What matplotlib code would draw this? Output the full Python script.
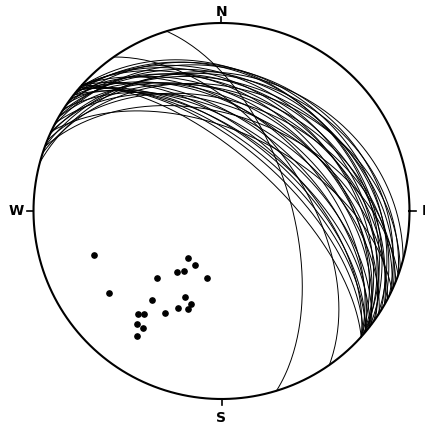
import numpy as np
import matplotlib
matplotlib.use("Agg")
import matplotlib.pyplot as plt

# planes: dip direction / dip (degrees)
dip_dirs = [15, 18, 20, 22, 24, 25, 27, 28, 30, 30,
            32, 33, 34, 35, 36, 37, 38, 38, 40, 40,
            42, 42, 41, 42, 41, 20, 25, 39,
            42, 41, 40, 38, 40,
            73, 55]
dips = [28, 35, 30, 42, 33, 38, 27, 46, 31, 40,
        35, 50, 28, 44, 38, 54, 30, 47, 34, 52,
        41, 56, 37, 48, 30, 48, 55, 43,
        66, 62, 60, 57, 58,
        60, 54]

# poles: trend / plunge
pole_trend = [251, 234, 224, 216, 212, 215, 206, 192, 218, 203,
              198, 204, 199, 209, 219, 217, 217, 214, 214]
pole_plunge = [29, 27, 49, 57, 59, 65, 64, 60, 40, 49,
               47, 43, 44, 38, 30, 32, 26, 26, 21]

labels = ["N", "E", "S", "W"]


def proj(trend, plunge):
    # lower hemisphere equal-area
    t = np.radians(trend)
    r = np.sqrt(2) * np.sin(np.radians(90 - np.asarray(plunge)) / 2)
    return r * np.sin(t), r * np.cos(t)


def great_circle(dd, dip):
    az = np.linspace(dd - 90, dd + 90, 181)
    pl = np.degrees(np.arctan(np.tan(np.radians(dip)) * np.cos(np.radians(az - dd))))
    return proj(az, pl)


fig = plt.figure(figsize=(4.25, 4.25), dpi=100)
ax = fig.add_axes([0, 0, 1, 1])
ax.set_xlim(-221.5 / 188, (425 - 221.5) / 188)
ax.set_ylim(-(425 - 211) / 188, 211 / 188)
ax.set_aspect("equal")
ax.axis("off")

th = np.linspace(0, 2 * np.pi, 400)
ax.plot(np.cos(th), np.sin(th), color="black", lw=1.5)

for d, dp in zip(dip_dirs, dips):
    x, y = great_circle(d, dp)
    ax.plot(x, y, color="black", lw=0.7)

px, py = proj(pole_trend, pole_plunge)
ax.plot(px, py, "o", color="black", ms=3.8)

# compass ticks and letters
tk = 6 / 188
for i, lab in enumerate(labels):
    a = np.radians(i * 90)
    s, c = np.sin(a), np.cos(a)
    ax.plot([s, s * (1 + tk)], [c, c * (1 + tk)], color="black", lw=1.2)
ax.text(0, 1 + 11 / 188, "N", ha="center", va="center", fontsize=10, fontweight="bold")
ax.text(0, -1 - 19 / 188, "S", ha="center", va="center", fontsize=10, fontweight="bold")
ax.text(-1 - 17 / 188, 0, "W", ha="center", va="center", fontsize=10, fontweight="bold")
ax.text(1 + 12 / 188, 0, "E", ha="left", va="center", fontsize=10, fontweight="bold")

fig.savefig("out.png", dpi=100)
